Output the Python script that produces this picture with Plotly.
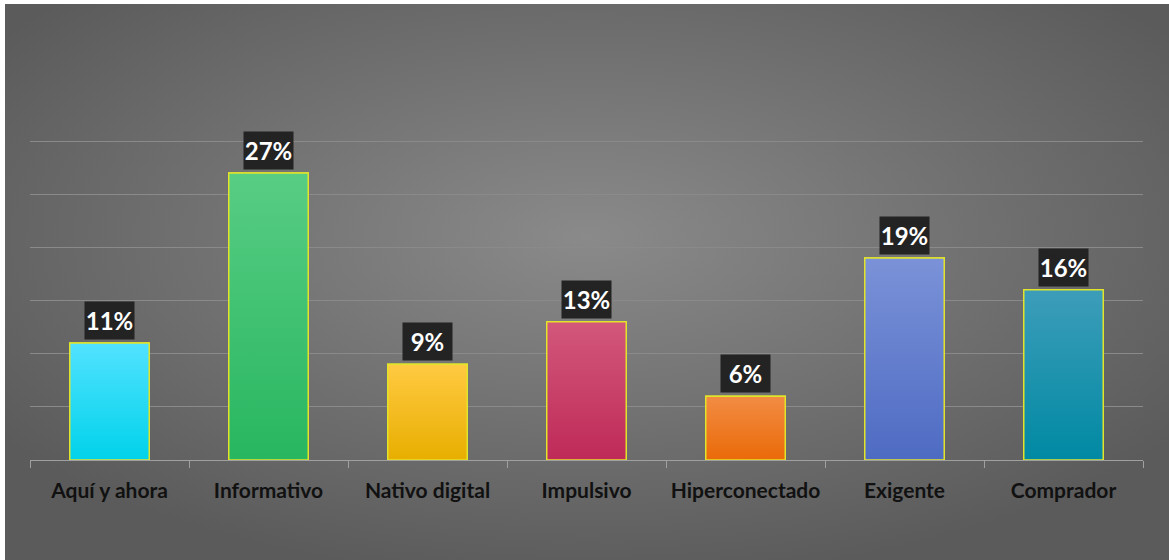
import base64
import plotly.graph_objects as go

# Shopper profile shares (%)
categories = ["Aquí y ahora", "Informativo", "Nativo digital", "Impulsivo",
              "Hiperconectado", "Exigente", "Comprador"]
values = [11, 27, 9, 13, 6, 19, 16]
labels = ["11%", "27%", "9%", "13%", "6%", "19%", "16%"]

# Gradient colours per bar: (top, bottom)
top_colors = ["#52e2ff", "#58cd84", "#ffca42", "#d2587a", "#f28c44", "#7b92d8", "#3d9db9"]
bottom_colors = ["#00d2ea", "#28b660", "#e8ae00", "#bf2a58", "#ea6a08", "#4e6bc3", "#0089a3"]

W, H = 1169, 560
L, R, T, B = 30, 26, 136, 100
plot_w = W - L - R
plot_h = H - T - B
px_per_unit = 319 / 30
y_top = plot_h / px_per_unit

# Radial grey backdrop as an inline SVG image
svg = f"""<svg xmlns='http://www.w3.org/2000/svg' width='{W-5}' height='{H-4}' preserveAspectRatio='none'>
<defs><radialGradient id='g' cx='0.5' cy='0.42' r='0.62'>
<stop offset='0' stop-color='#8a8a8a'/><stop offset='1' stop-color='#5b5b5b'/>
</radialGradient></defs>
<rect width='100%' height='100%' fill='url(#g)'/></svg>"""
bg_src = "data:image/svg+xml;base64," + base64.b64encode(svg.encode()).decode()

fig = go.Figure()

xs = list(range(len(categories)))
fig.add_trace(go.Bar(
    x=xs, y=values,
    marker=dict(color=bottom_colors, line=dict(color="#e2e42a", width=1.5)),
    width=0.5, hoverinfo="skip", showlegend=False,
))

# Vertical colour gradient on each bar
for i, v in enumerate(values):
    fig.add_trace(go.Scatter(
        x=[i - 0.25, i + 0.25, i + 0.25, i - 0.25, i - 0.25],
        y=[0, 0, v, v, 0],
        mode="lines", fill="toself",
        line=dict(color="#e2e42a", width=1.5),
        fillgradient=dict(type="vertical",
                          colorscale=[[0, bottom_colors[i]], [1, top_colors[i]]],
                          start=0, stop=v),
        hoverinfo="skip", showlegend=False,
    ))

for i, (v, lab) in enumerate(zip(values, labels)):
    fig.add_annotation(
        x=i, y=v, text=f"<b>{lab}</b>", showarrow=False,
        yanchor="bottom", yshift=3,
        width=49, height=37, bgcolor="#232323", borderpad=0,
        font=dict(family="Lato", size=24, color="white"),
    )

fig.add_layout_image(
    source=bg_src, xref="paper", yref="paper",
    x=(5 - L) / plot_w, y=(H - B - 4) / plot_h,
    sizex=(W - 5) / plot_w, sizey=(H - 4) / plot_h,
    xanchor="left", yanchor="top", sizing="stretch", layer="below",
)

fig.update_layout(
    width=W, height=H,
    margin=dict(l=L, r=R, t=T, b=B),
    paper_bgcolor="white", plot_bgcolor="rgba(0,0,0,0)",
    bargap=0.5,
    xaxis=dict(
        range=[-0.5, 6.5], tickmode="array", tickvals=xs,
        ticktext=[f"<b>{c}</b>" for c in categories],
        tickfont=dict(family="Lato", size=21, color="#111111"),
        ticks="", showgrid=False, zeroline=False,
        showline=True, linecolor="#a0a0a0", linewidth=1,
        ticklabelstandoff=12,
        minor=dict(tickmode="array", tickvals=[k - 0.5 for k in range(len(categories) + 1)],
                   ticks="outside", ticklen=7, tickcolor="#a0a0a0", tickwidth=1,
                   showgrid=False),
    ),
    yaxis=dict(
        range=[0, y_top], tickmode="array", tickvals=[5, 10, 15, 20, 25, 30],
        showticklabels=False,
        showgrid=True, gridcolor="#8a8a8a", gridwidth=1,
        zeroline=False, showline=False, ticks="",
    ),
)

fig.write_html("out.html")
